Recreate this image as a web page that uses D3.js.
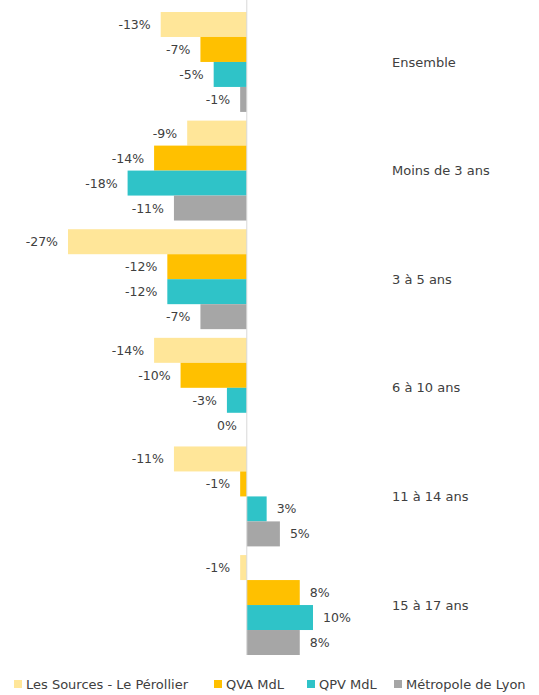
<!DOCTYPE html>
<html lang="fr">
<head>
<meta charset="utf-8">
<script src="https://cdn.jsdelivr.net/npm/d3@7/dist/d3.min.js"></script>
<style>
  html, body { margin: 0; padding: 0; background: #fff; }
  svg { display: block; font-family: "DejaVu Sans", Verdana, sans-serif; }
</style>
</head>
<body>
<svg id="chart" width="539" height="695"></svg>
<script>
// Évolution de la population par tranche d'âge
const categories = ["Ensemble", "Moins de 3 ans", "3 à 5 ans", "6 à 10 ans", "11 à 14 ans", "15 à 17 ans"];
const seriesNames = ["Les Sources - Le Pérollier", "QVA MdL", "QPV MdL", "Métropole de Lyon"];
const seriesColors = ["#FFE699", "#FFC000", "#2FC3C8", "#A6A6A6"];

// One array per series, in category order (percent)
const lesSources = [-13, -9, -27, -14, -11, -1];
const qvaMdl     = [-7, -14, -12, -10, -1, 8];
const qpvMdl     = [-5, -18, -12, -3, 3, 10];
const metropole  = [-1, -11, -7, 0, 5, 8];
const seriesValues = [lesSources, qvaMdl, qpvMdl, metropole];

const svg = d3.select("#chart");

const x = d3.scaleLinear().domain([-27, 10]).range([68, 313]);

const yGroup = d3.scaleBand()
  .domain(categories)
  .range([12, 655])
  .paddingInner(0.08)
  .paddingOuter(0);

const ySeries = d3.scaleBand()
  .domain(seriesNames)
  .range([0, yGroup.bandwidth()])
  .padding(0);

const rows = [];
categories.forEach((c, i) => {
  seriesNames.forEach((s, j) => {
    rows.push({ cat: c, series: s, color: seriesColors[j], value: seriesValues[j][i] });
  });
});

const g = svg.append("g");

// bars
g.selectAll("rect.bar")
  .data(rows)
  .join("rect")
  .attr("class", "bar")
  .attr("x", d => Math.min(x(0), x(d.value)))
  .attr("y", d => yGroup(d.cat) + ySeries(d.series))
  .attr("width", d => Math.abs(x(d.value) - x(0)))
  .attr("height", ySeries.bandwidth())
  .attr("fill", d => d.color);

// zero axis
const axis = d3.axisLeft(yGroup).tickSize(0).tickFormat("");
g.append("g")
  .attr("transform", `translate(${x(0)},0)`)
  .call(axis)
  .call(sel => sel.select(".domain").attr("stroke", "#D9D9D9").attr("d", "M0,0V655"));

// value labels
g.selectAll("text.val")
  .data(rows)
  .join("text")
  .attr("class", "val")
  .attr("x", d => d.value > 0 ? x(d.value) + 10 : Math.min(x(d.value), x(0)) - 10)
  .attr("y", d => yGroup(d.cat) + ySeries(d.series) + ySeries.bandwidth() / 2)
  .attr("dy", "0.36em")
  .attr("text-anchor", d => d.value > 0 ? "start" : "end")
  .attr("font-size", 12.5)
  .attr("fill", "#404040")
  .text(d => d.value + "%");

// category labels
g.selectAll("text.cat")
  .data(categories)
  .join("text")
  .attr("class", "cat")
  .attr("x", 392)
  .attr("y", d => yGroup(d) + yGroup.bandwidth() / 2)
  .attr("dy", "0.36em")
  .attr("font-size", 13)
  .attr("fill", "#404040")
  .text(d => d);

// legend
const legendX = [14, 214, 307, 394];
const legend = svg.append("g").attr("transform", "translate(0,684)");
const items = legend.selectAll("g")
  .data(seriesNames)
  .join("g")
  .attr("transform", (d, i) => `translate(${legendX[i]},0)`);
items.append("rect")
  .attr("x", 0).attr("y", -4)
  .attr("width", 8).attr("height", 8)
  .attr("fill", (d, i) => seriesColors[i]);
items.append("text")
  .attr("x", 12)
  .attr("dy", "0.36em")
  .attr("font-size", 13)
  .attr("fill", "#404040")
  .text(d => d);
</script>
</body>
</html>
